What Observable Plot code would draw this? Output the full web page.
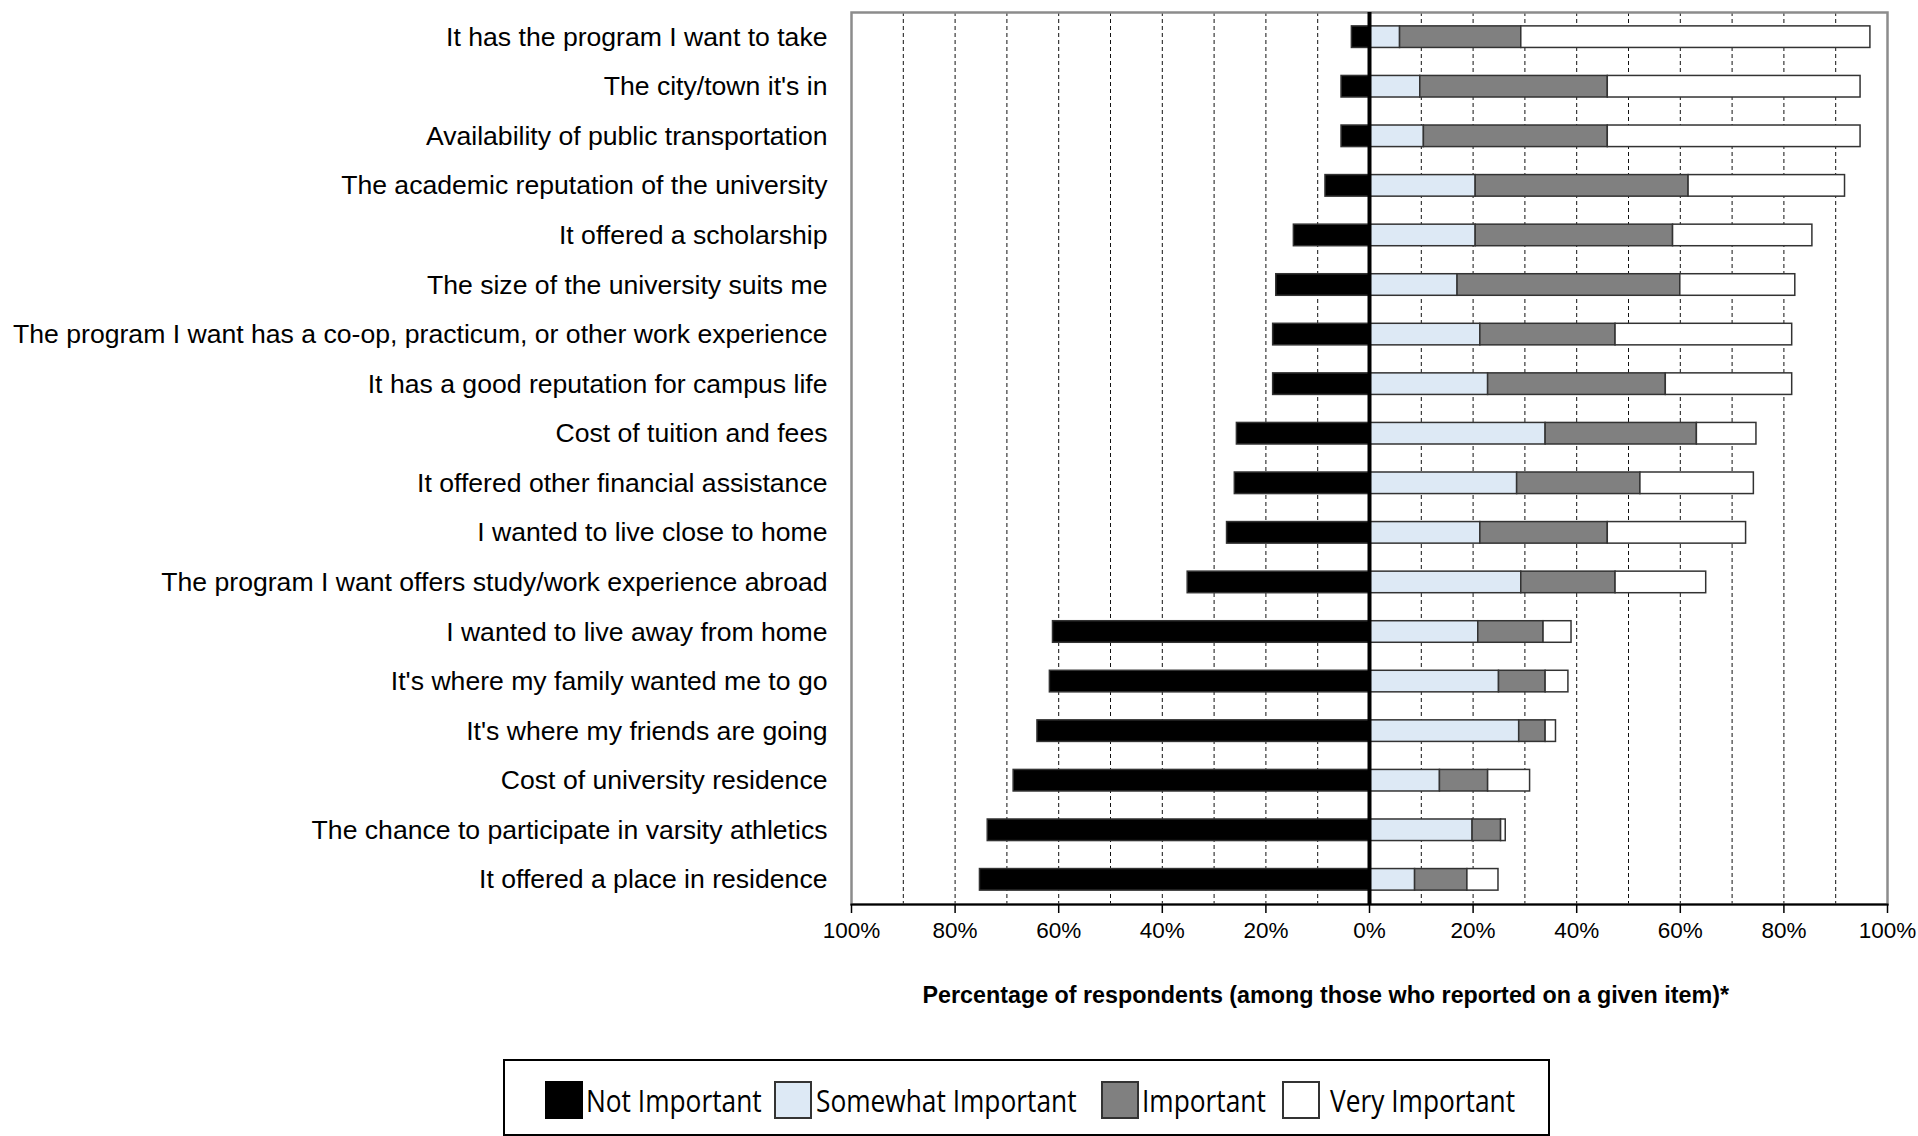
<!DOCTYPE html>
<html>
<head>
<meta charset="utf-8">
<script src="https://cdn.jsdelivr.net/npm/d3@7"></script>
<script src="https://cdn.jsdelivr.net/npm/@observablehq/plot@0.6"></script>
<style>
  html, body { margin: 0; padding: 0; background: #fff; overflow: hidden; }
  #chart { position: absolute; left: 0; top: 0; }
  #chart svg { font-family: "Liberation Sans", Arial, sans-serif; }
  .legend {
    position: absolute; left: 503px; top: 1059px; width: 1047px; height: 77px;
    border: 2px solid #000; box-sizing: border-box;
    font-family: "Open Sans", "Noto Sans", sans-serif; font-size: 26.3px; color: #000;
  }
  .legend .sw { position: absolute; top: 20px; width: 38px; height: 38px; box-sizing: border-box; border: 2px solid #333; }
  .legend .lab { position: absolute; top: 38.5px; line-height: 1; white-space: nowrap; transform: translateY(-50%) scaleY(1.2); }
</style>
</head>
<body>
<div id="chart"></div>
<div class="legend" id="legend"></div>
<script>
// Reasons for choosing a university, share of respondents by importance rating
const categories = [
  "It has the program I want to take",
  "The city/town it's in",
  "Availability of public transportation",
  "The academic reputation of the university",
  "It offered a scholarship",
  "The size of the university suits me",
  "The program I want has a co-op, practicum, or other work experience",
  "It has a good reputation for campus life",
  "Cost of tuition and fees",
  "It offered other financial assistance",
  "I wanted to live close to home",
  "The program I want offers study/work experience abroad",
  "I wanted to live away from home",
  "It's where my family wanted me to go",
  "It's where my friends are going",
  "Cost of university residence",
  "The chance to participate in varsity athletics",
  "It offered a place in residence"
];

const notImportant      = [3.4, 5.4, 5.4, 8.5, 14.6, 18.0, 18.6, 18.6, 25.6, 26.0, 27.5, 35.1, 61.1, 61.7, 64.1, 68.7, 73.7, 75.2];
const somewhatImportant = [5.9, 9.8, 10.5, 20.5, 20.5, 17.0, 21.4, 22.9, 34.0, 28.5, 21.4, 29.3, 21.0, 25.0, 28.9, 13.6, 19.9, 8.8];
const important         = [23.4, 36.2, 35.5, 41.1, 38.1, 43.0, 26.1, 34.3, 29.2, 23.8, 24.6, 18.2, 12.6, 9.0, 5.1, 9.3, 5.5, 10.1];
const veryImportant     = [67.4, 48.8, 48.8, 30.2, 26.9, 22.2, 34.1, 24.4, 11.5, 21.9, 26.7, 17.5, 5.4, 4.4, 2.0, 8.1, 0.9, 6.0];

const levels = ["Not Important", "Somewhat Important", "Important", "Very Important"];
const levelColors = ["#000000", "#dde9f5", "#808080", "#ffffff"];

const axisTicks = [-100, -80, -60, -40, -20, 0, 20, 40, 60, 80, 100];
const gridLines = [-90, -80, -70, -60, -50, -40, -30, -20, -10, 10, 20, 30, 40, 50, 60, 70, 80, 90];
const axisTitle = "Percentage of respondents (among those who reported on a given item)*";

// Long format: "Not Important" extends left of zero, the other ratings stack to the right
const series = [notImportant, somewhatImportant, important, veryImportant];
const rows = [];
categories.forEach((cat, i) => {
  levels.forEach((lvl, j) => {
    rows.push({category: cat, level: lvl, value: j === 0 ? -series[j][i] : series[j][i]});
  });
});

const chart = Plot.plot({
  width: 1918,
  height: 1030,
  marginLeft: 851,
  marginRight: 31,
  marginTop: 12,
  marginBottom: 126,
  style: {background: "#fff", fontFamily: "Liberation Sans, Arial, sans-serif"},
  x: {domain: [-100, 100], label: null},
  y: {domain: categories, paddingInner: 0.565, paddingOuter: 0.28, round: false, label: null},
  color: {domain: levels, range: levelColors},
  marks: [
    Plot.ruleX(gridLines, {stroke: "#111", strokeWidth: 1, strokeDasharray: "4,3"}),
    Plot.frame({stroke: "#8c8c8c", strokeWidth: 2.5}),
    Plot.barX(rows, Plot.stackX({
      y: "category",
      x: "value",
      fill: "level",
      order: levels,
      stroke: "#333",
      strokeWidth: 1.5
    })),
    Plot.ruleX([0], {stroke: "#000", strokeWidth: 4}),
    Plot.axisX({
      ticks: axisTicks,
      tickFormat: d => Math.abs(d) + "%",
      tickSize: 9,
      tickPadding: 9,
      fontSize: 22.5,
      stroke: "#000",
      strokeWidth: 1.5
    }),
    Plot.frame({anchor: "bottom", stroke: "#000", strokeWidth: 2}),
    Plot.axisY({tickSize: 0, tickPadding: 24, fontSize: 26.6}),
    Plot.text([axisTitle], {
      text: d => d,
      frameAnchor: "bottom-left",
      textAnchor: "start",
      dx: 71,
      dy: 98,
      fontSize: 23.3,
      fontWeight: "bold",
      fill: "#000"
    })
  ]
});
document.getElementById("chart").appendChild(chart);

// Legend box below the chart: swatch and label offsets inside the box
const swatchLeft = [40, 269, 596, 777];
const labelLeft = [81, 311, 637, 825];
const legend = d3.select("#legend");
levels.forEach((lvl, i) => {
  legend.append("div").attr("class", "sw")
    .style("left", swatchLeft[i] + "px")
    .style("background", levelColors[i])
    .style("border-color", i === 0 ? "#000" : "#333");
  legend.append("span").attr("class", "lab")
    .style("left", labelLeft[i] + "px")
    .text(lvl);
});
</script>
</body>
</html>
